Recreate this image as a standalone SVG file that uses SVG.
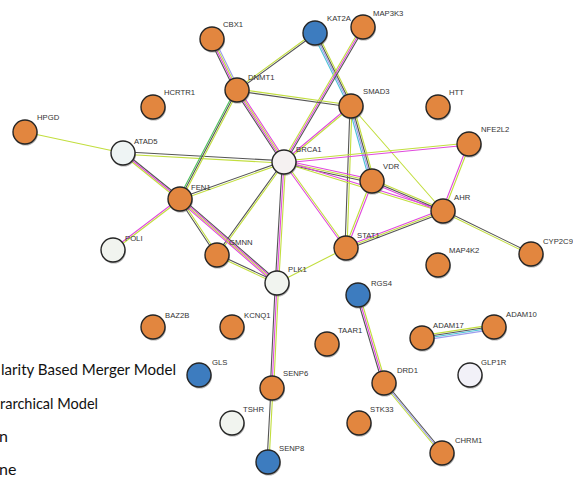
<svg xmlns="http://www.w3.org/2000/svg" width="573" height="484" viewBox="0 0 573 484">
<style>
.e line{stroke-width:1.1;fill:none;stroke-linecap:round}
.l{stroke:#C2DE3E}.m{stroke:#E04ADD}.k{stroke:#555}.c{stroke:#4CC4D6}.p{stroke:#9C9CEC}.g{stroke:#4CC05A}
.sh{fill:#555;opacity:.45}
.nd{stroke:#262626;stroke-width:1.4}
.o{fill:#E2863F}.b{fill:#3D7CBF}.w{fill:#F1F4EF}
.lb{font-family:"Liberation Sans",Arial,sans-serif;font-size:7.7px;fill:#333}
.lg{font-family:Lato,"Open Sans",sans-serif;font-size:16px;fill:#111}
</style>
<rect width="573" height="484" fill="#fff"/>
<g id="connectors" class="e">
<line class="l" x1="25" y1="132" x2="123" y2="153"/>
<line class="k" x1="123" y1="151.8" x2="284" y2="160.8"/><line class="l" x1="123" y1="154.2" x2="284" y2="163.2"/>
<line class="k" x1="123" y1="151.3" x2="180" y2="197.3"/><line class="m" x1="123" y1="153" x2="180" y2="199"/><line class="l" x1="123" y1="154.7" x2="180" y2="200.7"/>
<line class="k" x1="209.6" y1="39" x2="234.6" y2="90"/><line class="m" x1="211.2" y1="39" x2="236.2" y2="90"/><line class="l" x1="212.8" y1="39" x2="237.8" y2="90"/><line class="p" x1="214.4" y1="39" x2="239.4" y2="90"/>
<line class="l" x1="315" y1="32" x2="237" y2="89"/><line class="k" x1="315" y1="34" x2="237" y2="91"/>
<line class="c" x1="312.6" y1="33" x2="348.6" y2="106"/><line class="p" x1="314.2" y1="33" x2="350.2" y2="106"/><line class="k" x1="315.8" y1="33" x2="351.8" y2="106"/><line class="l" x1="317.4" y1="33" x2="353.4" y2="106"/>
<line class="l" x1="361.3" y1="27" x2="282.3" y2="162"/><line class="m" x1="363" y1="27" x2="284" y2="162"/><line class="k" x1="364.7" y1="27" x2="285.7" y2="162"/>
<line class="l" x1="237" y1="89" x2="351" y2="105"/><line class="k" x1="237" y1="91" x2="351" y2="107"/>
<line class="k" x1="234.6" y1="90" x2="281.6" y2="162"/><line class="m" x1="236.2" y1="90" x2="283.2" y2="162"/><line class="l" x1="237.8" y1="90" x2="284.8" y2="162"/><line class="m" x1="239.4" y1="90" x2="286.4" y2="162"/>
<line class="g" x1="235.3" y1="90" x2="178.3" y2="199"/><line class="k" x1="237" y1="90" x2="180" y2="199"/><line class="l" x1="238.7" y1="90" x2="181.7" y2="199"/>
<line class="m" x1="351" y1="105" x2="284" y2="161"/><line class="l" x1="351" y1="107" x2="284" y2="163"/>
<line class="c" x1="348.6" y1="106" x2="369.6" y2="181"/><line class="p" x1="350.2" y1="106" x2="371.2" y2="181"/><line class="k" x1="351.8" y1="106" x2="372.8" y2="181"/><line class="l" x1="353.4" y1="106" x2="374.4" y2="181"/>
<line class="k" x1="350" y1="106" x2="345" y2="248"/><line class="l" x1="352" y1="106" x2="347" y2="248"/>
<line class="l" x1="351" y1="106" x2="443" y2="211"/>
<line class="l" x1="284" y1="161" x2="469" y2="143"/><line class="m" x1="284" y1="163" x2="469" y2="145"/>
<line class="m" x1="284" y1="160.3" x2="372" y2="179.3"/><line class="l" x1="284" y1="162" x2="372" y2="181"/><line class="k" x1="284" y1="163.7" x2="372" y2="182.7"/>
<line class="m" x1="284" y1="161" x2="443" y2="210"/><line class="l" x1="284" y1="163" x2="443" y2="212"/>
<line class="m" x1="283" y1="162" x2="345" y2="248"/><line class="l" x1="285" y1="162" x2="347" y2="248"/>
<line class="k" x1="282.3" y1="162" x2="275.3" y2="283"/><line class="m" x1="284" y1="162" x2="277" y2="283"/><line class="l" x1="285.7" y1="162" x2="278.7" y2="283"/>
<line class="k" x1="284" y1="161" x2="180" y2="198"/><line class="l" x1="284" y1="163" x2="180" y2="200"/>
<line class="k" x1="283" y1="162" x2="216" y2="255"/><line class="l" x1="285" y1="162" x2="218" y2="255"/>
<line class="m" x1="468" y1="144" x2="442" y2="211"/><line class="l" x1="470" y1="144" x2="444" y2="211"/>
<line class="l" x1="372" y1="179.3" x2="443" y2="209.3"/><line class="k" x1="372" y1="181" x2="443" y2="211"/><line class="m" x1="372" y1="182.7" x2="443" y2="212.7"/>
<line class="l" x1="371" y1="181" x2="345" y2="248"/><line class="m" x1="373" y1="181" x2="347" y2="248"/>
<line class="m" x1="346" y1="246.3" x2="443" y2="209.3"/><line class="l" x1="346" y1="248" x2="443" y2="211"/><line class="k" x1="346" y1="249.7" x2="443" y2="212.7"/>
<line class="k" x1="443" y1="210" x2="531" y2="253"/><line class="l" x1="443" y1="212" x2="531" y2="255"/>
<line class="l" x1="346" y1="248" x2="277" y2="283"/>
<line class="m" x1="180" y1="198" x2="113" y2="249"/><line class="l" x1="180" y1="200" x2="113" y2="251"/>
<line class="k" x1="179" y1="199" x2="216" y2="255"/><line class="l" x1="181" y1="199" x2="218" y2="255"/>
<line class="k" x1="180" y1="196.6" x2="277" y2="280.6"/><line class="m" x1="180" y1="198.2" x2="277" y2="282.2"/><line class="l" x1="180" y1="199.8" x2="277" y2="283.8"/><line class="m" x1="180" y1="201.4" x2="277" y2="285.4"/>
<line class="k" x1="217" y1="254" x2="277" y2="282"/><line class="l" x1="217" y1="256" x2="277" y2="284"/>
<line class="k" x1="275.3" y1="283" x2="270.3" y2="388"/><line class="m" x1="277" y1="283" x2="272" y2="388"/><line class="l" x1="278.7" y1="283" x2="273.7" y2="388"/>
<line class="k" x1="271" y1="388" x2="267" y2="462"/><line class="l" x1="273" y1="388" x2="269" y2="462"/>
<line class="k" x1="356.3" y1="295" x2="382.3" y2="383"/><line class="m" x1="358" y1="295" x2="384" y2="383"/><line class="l" x1="359.7" y1="295" x2="385.7" y2="383"/>
<line class="l" x1="382.3" y1="383" x2="440.3" y2="453"/><line class="p" x1="384" y1="383" x2="442" y2="453"/><line class="k" x1="385.7" y1="383" x2="443.7" y2="453"/>
<line class="l" x1="422" y1="335.6" x2="494" y2="324.6"/><line class="k" x1="422" y1="337.2" x2="494" y2="326.2"/><line class="c" x1="422" y1="338.8" x2="494" y2="327.8"/><line class="p" x1="422" y1="340.4" x2="494" y2="329.4"/>
</g>
<defs>
<circle id="s" r="12.3" class="sh"/>
</defs>
<g id="n-HPGD"><use href="#s" x="25.7" y="133.2"/><circle class="nd o" cx="25" cy="132" r="12"/><text class="lb" x="37" y="120">HPGD</text></g>
<g id="n-HCRTR1"><use href="#s" x="153.7" y="108.2"/><circle class="nd o" cx="153" cy="107" r="12"/><text class="lb" x="164" y="94.5">HCRTR1</text></g>
<g id="n-ATAD5"><use href="#s" x="123.7" y="154.2"/><circle class="nd w" cx="123" cy="153" r="12" style="fill:#EEF4F4"/><text class="lb" x="134" y="144">ATAD5</text></g>
<g id="n-CBX1"><use href="#s" x="212.7" y="40.2"/><circle class="nd o" cx="212" cy="39" r="12"/><text class="lb" x="223" y="27">CBX1</text></g>
<g id="n-KAT2A"><use href="#s" x="315.7" y="34.2"/><circle class="nd b" cx="315" cy="33" r="12"/><text class="lb" x="327" y="21">KAT2A</text></g>
<g id="n-MAP3K3"><use href="#s" x="363.7" y="28.2"/><circle class="nd o" cx="363" cy="27" r="12"/><text class="lb" x="373" y="16">MAP3K3</text></g>
<g id="n-DNMT1"><use href="#s" x="237.7" y="91.2"/><circle class="nd o" cx="237" cy="90" r="12"/><text class="lb" x="248" y="79.5">DNMT1</text></g>
<g id="n-SMAD3"><use href="#s" x="351.7" y="107.2"/><circle class="nd o" cx="351" cy="106" r="12"/><text class="lb" x="363" y="93.5">SMAD3</text></g>
<g id="n-BRCA1"><use href="#s" x="284.7" y="163.2"/><circle class="nd w" cx="284" cy="162" r="12" style="fill:#F5F1F1"/><text class="lb" x="296" y="152">BRCA1</text></g>
<g id="n-HTT"><use href="#s" x="438.7" y="108.2"/><circle class="nd o" cx="438" cy="107" r="12"/><text class="lb" x="449" y="94.5">HTT</text></g>
<g id="n-NFE2L2"><use href="#s" x="469.7" y="145.2"/><circle class="nd o" cx="469" cy="144" r="12"/><text class="lb" x="481" y="132">NFE2L2</text></g>
<g id="n-VDR"><use href="#s" x="372.7" y="182.2"/><circle class="nd o" cx="372" cy="181" r="12"/><text class="lb" x="383" y="168.5">VDR</text></g>
<g id="n-AHR"><use href="#s" x="443.7" y="212.2"/><circle class="nd o" cx="443" cy="211" r="12"/><text class="lb" x="454" y="199.5">AHR</text></g>
<g id="n-CYP2C9"><use href="#s" x="531.7" y="255.2"/><circle class="nd o" cx="531" cy="254" r="12"/><text class="lb" x="543" y="243.5">CYP2C9</text></g>
<g id="n-MAP4K2"><use href="#s" x="438.7" y="266.2"/><circle class="nd o" cx="438" cy="265" r="12"/><text class="lb" x="449" y="253">MAP4K2</text></g>
<g id="n-STAT1"><use href="#s" x="346.7" y="249.2"/><circle class="nd o" cx="346" cy="248" r="12"/><text class="lb" x="357" y="238">STAT1</text></g>
<g id="n-FEN1"><use href="#s" x="180.7" y="200.2"/><circle class="nd o" cx="180" cy="199" r="12"/><text class="lb" x="191" y="189.5">FEN1</text></g>
<g id="n-POLI"><use href="#s" x="113.7" y="251.2"/><circle class="nd w" cx="113" cy="250" r="12"/><text class="lb" x="125" y="241">POLI</text></g>
<g id="n-GMNN"><use href="#s" x="217.7" y="256.2"/><circle class="nd o" cx="217" cy="255" r="12"/><text class="lb" x="229" y="244.5">GMNN</text></g>
<g id="n-PLK1"><use href="#s" x="277.7" y="284.2"/><circle class="nd w" cx="277" cy="283" r="12"/><text class="lb" x="288" y="272">PLK1</text></g>
<g id="n-RGS4"><use href="#s" x="358.7" y="296.2"/><circle class="nd b" cx="358" cy="295" r="12"/><text class="lb" x="371" y="285.5">RGS4</text></g>
<g id="n-BAZ2B"><use href="#s" x="153.7" y="328.2"/><circle class="nd o" cx="153" cy="327" r="12"/><text class="lb" x="165" y="318">BAZ2B</text></g>
<g id="n-KCNQ1"><use href="#s" x="232.7" y="328.2"/><circle class="nd o" cx="232" cy="327" r="12"/><text class="lb" x="244" y="318">KCNQ1</text></g>
<g id="n-TAAR1"><use href="#s" x="327.7" y="345.2"/><circle class="nd o" cx="327" cy="344" r="12"/><text class="lb" x="338" y="333">TAAR1</text></g>
<g id="n-GLS"><use href="#s" x="199.7" y="376.2"/><circle class="nd b" cx="199" cy="375" r="12"/><text class="lb" x="212" y="364.5">GLS</text></g>
<g id="n-SENP6"><use href="#s" x="272.7" y="389.2"/><circle class="nd o" cx="272" cy="388" r="12"/><text class="lb" x="283" y="375.5">SENP6</text></g>
<g id="n-TSHR"><use href="#s" x="232.7" y="424.2"/><circle class="nd w" cx="232" cy="423" r="12"/><text class="lb" x="243" y="412">TSHR</text></g>
<g id="n-SENP8"><use href="#s" x="268.7" y="463.2"/><circle class="nd b" cx="268" cy="462" r="12"/><text class="lb" x="279" y="451">SENP8</text></g>
<g id="n-STK33"><use href="#s" x="359.7" y="424.2"/><circle class="nd o" cx="359" cy="423" r="12"/><text class="lb" x="370" y="412">STK33</text></g>
<g id="n-DRD1"><use href="#s" x="384.7" y="384.2"/><circle class="nd o" cx="384" cy="383" r="12"/><text class="lb" x="397" y="373">DRD1</text></g>
<g id="n-ADAM17"><use href="#s" x="422.7" y="339.2"/><circle class="nd o" cx="422" cy="338" r="12"/><text class="lb" x="433" y="328">ADAM17</text></g>
<g id="n-ADAM10"><use href="#s" x="494.7" y="328.2"/><circle class="nd o" cx="494" cy="327" r="12"/><text class="lb" x="506" y="317">ADAM10</text></g>
<g id="n-GLP1R"><use href="#s" x="470.7" y="376.2"/><circle class="nd w" cx="470" cy="375" r="12" style="fill:#F2F1F8"/><text class="lb" x="481" y="364.5">GLP1R</text></g>
<g id="n-CHRM1"><use href="#s" x="442.7" y="454.2"/><circle class="nd o" cx="442" cy="453" r="12"/><text class="lb" x="455" y="443">CHRM1</text></g>
<g id="legend">
<text class="lg" x="1" y="374.5" textLength="175" lengthAdjust="spacingAndGlyphs">larity Based Merger Model</text>
<text class="lg" x="0" y="409" textLength="98" lengthAdjust="spacingAndGlyphs">rarchical Model</text>
<text class="lg" x="-1" y="442">n</text>
<text class="lg" x="-1" y="475">ne</text>
</g>
</svg>
